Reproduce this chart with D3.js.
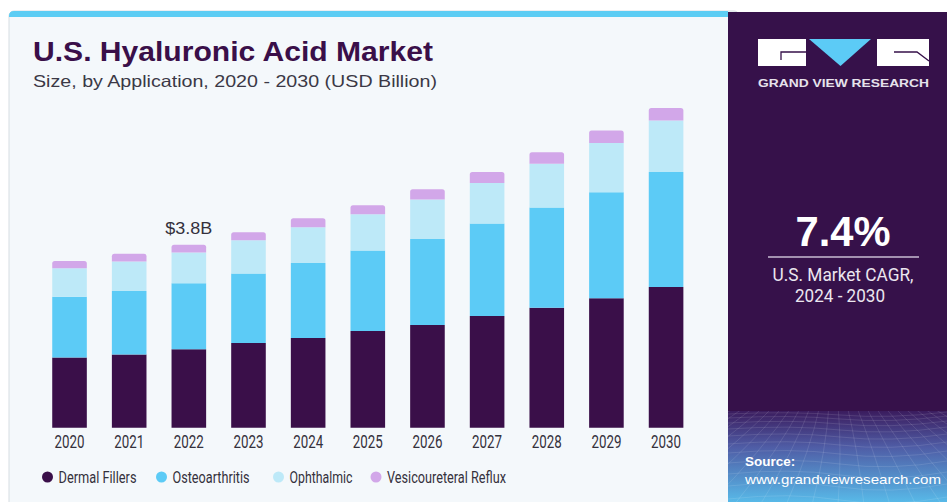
<!DOCTYPE html>
<html>
<head>
<meta charset="utf-8">
<script src="https://cdn.jsdelivr.net/npm/d3@7"></script>
<style>
body{margin:0;background:#fff;}
svg{display:block;font-family:"Liberation Sans",Arial,sans-serif;}
.nar{font-family:"Liberation Sans Narrow","Arial Narrow","Roboto",sans-serif;}
</style>
</head>
<body>
<div id="chart"></div>
<script>
var years = ['2020','2021','2022','2023','2024','2025','2026','2027','2028','2029','2030'];
var dermal = [1.46,1.52,1.63,1.76,1.86,2.01,2.13,2.32,2.49,2.69,2.92];
var osteo  = [1.26,1.32,1.37,1.44,1.56,1.67,1.79,1.92,2.08,2.20,2.39];
var ophth  = [0.59,0.61,0.64,0.69,0.74,0.75,0.82,0.84,0.91,1.02,1.07];
var vesico = [0.15,0.16,0.16,0.17,0.19,0.19,0.21,0.23,0.24,0.26,0.26];
var seriesNames = ['Dermal Fillers','Osteoarthritis','Ophthalmic','Vesicoureteral Reflux'];
var seriesKeys = ['dermal','osteo','ophth','vesico'];
var colors = ['#3a0f49','#5ccbf6','#bde9f8','#d2a7e9'];
var labelYear = '2022', labelText = '$3.8B';
var cagr = '7.4%';

var W=947, H=502;
var svg=d3.select('#chart').append('svg').attr('width',W).attr('height',H);

// panel
svg.append('rect').attr('x',9).attr('y',11).attr('width',730).attr('height',500)
    .attr('rx',5).attr('fill','#f4f8fb').attr('stroke','#d6dde2').attr('stroke-width',1);
svg.append('path').attr('d','M9,17 L9,16 Q9,11 14,11 L728,11 L728,17 Z').attr('fill','#5ccdf4');

// title
svg.append('text').attr('x',33).attr('y',61).attr('fill','#3a0f49')
    .attr('font-size',27).attr('font-weight','900')
    .attr('textLength',400).attr('lengthAdjust','spacingAndGlyphs')
    .text('U.S. Hyaluronic Acid Market');
svg.append('text').attr('x',33).attr('y',87).attr('fill','#3b3846')
    .attr('font-size',16.5)
    .attr('textLength',404).attr('lengthAdjust','spacingAndGlyphs')
    .text('Size, by Application, 2020 - 2030 (USD Billion)');

// data table
var table=years.map(function(y,i){
    return {year:y, dermal:dermal[i], osteo:osteo[i], ophth:ophth[i], vesico:vesico[i]};
});
var stack=d3.stack().keys(seriesKeys)(table);

var x=d3.scaleBand().domain(years).range([39.7,695.9]).paddingInner(0.42).paddingOuter(0.21);
var y=d3.scaleLinear().domain([0,7]).range([427.7,427.7-7*48.16]);

var g=svg.append('g');
stack.forEach(function(layer,li){
    g.selectAll('.s'+li).data(layer).enter().append('path')
        .attr('fill',colors[li])
        .attr('d',function(d){
            var x0=x(d.data.year), x1=x0+x.bandwidth();
            var yt=y(d[1]), yb=y(d[0]);
            if (li==stack.length-1){
                var r=2.5;
                return 'M'+x0+','+yb+' L'+x0+','+(yt+r)+' Q'+x0+','+yt+' '+(x0+r)+','+yt+
                    ' L'+(x1-r)+','+yt+' Q'+x1+','+yt+' '+x1+','+(yt+r)+' L'+x1+','+yb+' Z';
            }
            return 'M'+x0+','+yb+' L'+x0+','+yt+' L'+x1+','+yt+' L'+x1+','+yb+' Z';
        });
});

// value label
var li=years.indexOf(labelYear);
svg.append('text').attr('x',x(labelYear)+x.bandwidth()/2).attr('y',y(stack[3][li][1])-11)
    .attr('text-anchor','middle').attr('font-size',16.5).attr('fill','#33303c')
    .attr('textLength',47).attr('lengthAdjust','spacingAndGlyphs')
    .text(labelText);

// x axis
var xAxis=svg.append('g').attr('transform','translate(0,'+428+')')
    .call(d3.axisBottom(x).tickSize(0).tickPadding(5));
xAxis.select('.domain').remove();
xAxis.selectAll('text').attr('class','nar').attr('font-size',18).attr('fill','#34313c')
    .attr('y',20).attr('dy',0).attr('textLength',30).attr('lengthAdjust','spacingAndGlyphs');

// legend
var legX=[47.5,161.5,278.5,376];
var legW=[78,77,63,119];
var leg=svg.append('g');
seriesNames.forEach(function(n,i){
    leg.append('circle').attr('cx',legX[i]).attr('cy',477).attr('r',5.5).attr('fill',colors[i]);
    leg.append('text').attr('class','nar').attr('x',legX[i]+11).attr('y',483)
        .attr('font-size',16.5).attr('fill','#34313c')
        .attr('textLength',legW[i]).attr('lengthAdjust','spacingAndGlyphs').text(n);
});

// right panel
var defs=svg.append('defs');
var grad=defs.append('linearGradient').attr('id','gBot').attr('x1',0).attr('y1',0).attr('x2',0).attr('y2',1);
grad.append('stop').attr('offset','0%').attr('stop-color','#3b1c5e');
grad.append('stop').attr('offset','40%').attr('stop-color','#4f5da6');
grad.append('stop').attr('offset','100%').attr('stop-color','#58b9e8');
defs.append('clipPath').attr('id','cBot').append('rect')
    .attr('x',728).attr('y',411).attr('width',219).attr('height',91);

svg.append('rect').attr('x',728).attr('y',12).attr('width',219).attr('height',490).attr('fill','#36114a');
svg.append('rect').attr('x',728).attr('y',411).attr('width',219).attr('height',91).attr('fill','url(#gBot)');

var grid=svg.append('g').attr('clip-path','url(#cBot)')
    .attr('stroke','#ffffff').attr('stroke-opacity',0.16).attr('fill','none').attr('stroke-width',0.7);
var hy=[414,418,423,429,436,444,453,463,474,486,499];
hy.forEach(function(v,i){
    grid.append('path').attr('d','M728,'+v+' Q790,'+(v-3-i*0.4)+' 840,'+(v+1)+' T947,'+(v-2));
});
for (var k=-14;k<=14;k++){
    var bx=838+k*26, tx=838+k*9;
    grid.append('path').attr('d','M'+tx+',405 Q'+(tx+(bx-tx)*0.4+4)+',450 '+bx+',505');
}

// logo
var logo=svg.append('g');
logo.append('rect').attr('x',758).attr('y',39).attr('width',48).attr('height',27).attr('fill','#fff');
logo.append('path').attr('d','M809,39 L871,39 L840.5,66 Z').attr('fill','#5ccbf6');
logo.append('rect').attr('x',877).attr('y',39).attr('width',52).attr('height',27).attr('fill','#fff');
logo.append('path').attr('d','M781,60 L781,52 L806,52').attr('stroke','#36114a').attr('stroke-width',1.3).attr('fill','none');
logo.append('path').attr('d','M894,52 L917,52 L929,61').attr('stroke','#36114a').attr('stroke-width',1.3).attr('fill','none');
logo.append('text').attr('x',758).attr('y',87).attr('font-size',11.5).attr('font-weight','bold')
    .attr('fill','#e6e2ec').attr('textLength',171).attr('lengthAdjust','spacingAndGlyphs')
    .text('GRAND VIEW RESEARCH');

// CAGR
svg.append('text').attr('x',843).attr('y',246).attr('text-anchor','middle')
    .attr('font-size',42).attr('font-weight','bold').attr('fill','#fff')
    .attr('textLength',95).attr('lengthAdjust','spacingAndGlyphs').text(cagr);
svg.append('line').attr('x1',768).attr('x2',919).attr('y1',257).attr('y2',257)
    .attr('stroke','#c9bdd3').attr('stroke-width',1.5);
svg.append('text').attr('class','nar').attr('x',843).attr('y',281).attr('text-anchor','middle')
    .attr('font-size',17.5).attr('fill','#ebe6ef')
    .attr('textLength',141).attr('lengthAdjust','spacingAndGlyphs').text('U.S. Market CAGR,');
svg.append('text').attr('class','nar').attr('x',840).attr('y',302).attr('text-anchor','middle')
    .attr('font-size',17.5).attr('fill','#ebe6ef')
    .attr('textLength',90).attr('lengthAdjust','spacingAndGlyphs').text('2024 - 2030');

// source
svg.append('text').attr('x',745).attr('y',466).attr('font-size',13.5).attr('font-weight','bold')
    .attr('fill','#fff').text('Source:');
svg.append('text').attr('x',745).attr('y',484).attr('font-size',13.5)
    .attr('fill','#fff').attr('textLength',196).attr('lengthAdjust','spacingAndGlyphs')
    .text('www.grandviewresearch.com');
</script>
</body>
</html>
